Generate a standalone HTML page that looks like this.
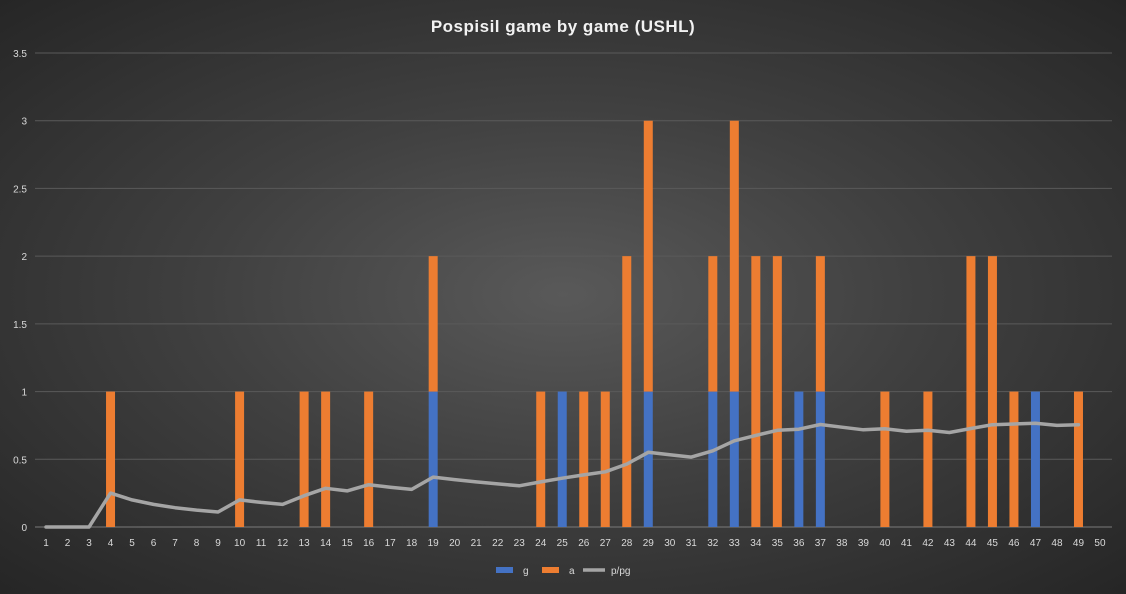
<!DOCTYPE html>
<html><head><meta charset="utf-8"><style>
html,body{margin:0;padding:0}
body{width:1126px;height:589px;overflow:hidden;background:radial-gradient(ellipse at 50% 50%,#595959 0%,#404040 45%,#262626 100%);font-family:"Liberation Sans",sans-serif}
</style></head><body>
<svg id="c" width="1126" height="589" xmlns="http://www.w3.org/2000/svg"></svg>
<script>
const s=document.getElementById('c');let h='';
h+='<text x="563" y="32" fill="#f2f2f2" font-size="17" font-weight="bold" text-anchor="middle" letter-spacing="0.5">Pospisil  game  by  game  (USHL)</text>';
const y0=527,u=135.43,x1=46,dx=21.51;
const Y=v=>y0-v*u,X=i=>x1+(i-1)*dx;
[0,0.5,1,1.5,2,2.5,3,3.5].forEach(v=>{
 h+=`<line x1="35" x2="1112" y1="${Y(v)}" y2="${Y(v)}" stroke="${v==0?'#7a7a7a':'#5a5a5a'}" stroke-width="1"/>`;
 h+=`<text x="27" y="${Y(v)+4}" fill="#d9d9d9" font-size="10" text-anchor="end">${v}</text>`;
});
for(let i=1;i<=50;i++)h+=`<text x="${X(i)}" y="546" fill="#d9d9d9" font-size="10" text-anchor="middle">${i}</text>`;
const g={19:1,25:1,29:1,32:1,33:1,36:1,37:1,47:1};
const a={4:1,10:1,13:1,14:1,16:1,19:1,24:1,26:1,27:1,28:2,29:2,32:1,33:2,34:2,35:2,37:1,40:1,42:1,44:2,45:2,46:1,49:1};
const bw=9;
for(let i=1;i<=50;i++){const gv=g[i]||0,av=a[i]||0;
 if(gv)h+=`<rect x="${X(i)-bw/2}" y="${Y(gv)}" width="${bw}" height="${gv*u}" fill="#4472c4"/>`;
 if(av)h+=`<rect x="${X(i)-bw/2}" y="${Y(gv+av)}" width="${bw}" height="${av*u}" fill="#ed7d31"/>`;}
let c=0,pts=[];
for(let i=1;i<=49;i++){c+=(g[i]||0)+(a[i]||0);pts.push(X(i)+','+Y(c/i).toFixed(1));}
h+=`<polyline points="${pts.join(' ')}" fill="none" stroke="#a5a5a5" stroke-width="3.5" stroke-linejoin="round" stroke-linecap="round"/>`;
h+='<rect x="496" y="567" width="17" height="6" fill="#4472c4"/><text x="523" y="574" fill="#d9d9d9" font-size="10">g</text>';
h+='<rect x="542" y="567" width="17" height="6" fill="#ed7d31"/><text x="569" y="574" fill="#d9d9d9" font-size="10">a</text>';
h+='<line x1="583" x2="605" y1="570" y2="570" stroke="#a5a5a5" stroke-width="3.5"/><text x="611" y="574" fill="#d9d9d9" font-size="10">p/pg</text>';
s.innerHTML=h;
</script>
</body></html>
